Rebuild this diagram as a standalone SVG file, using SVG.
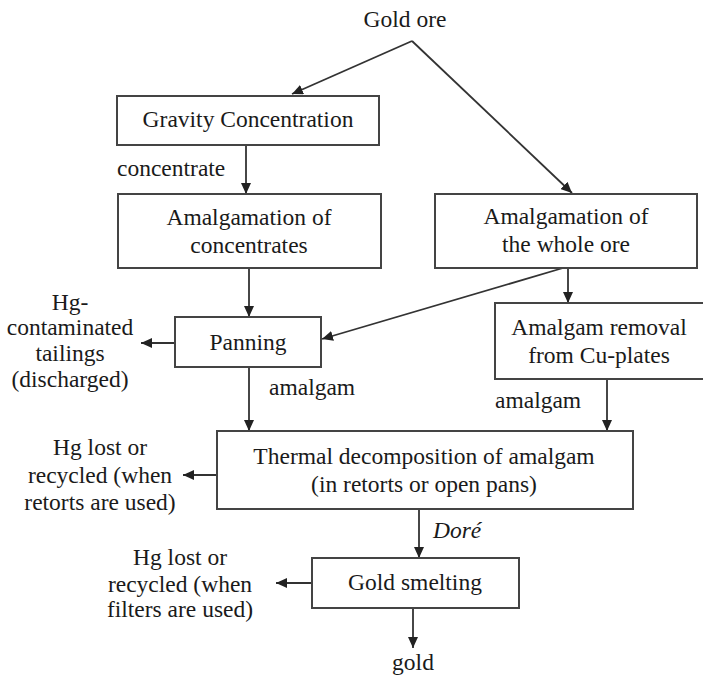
<svg xmlns="http://www.w3.org/2000/svg" width="703" height="676" viewBox="0 0 703 676" font-family="Liberation Serif, Times New Roman, serif">
<defs>
<style>
.box{fill:#fff;stroke:#444;stroke-width:2}
.t{font-family:'Liberation Serif','Times New Roman',serif;font-size:23.5px;fill:#1a1a1a}
.c{text-anchor:middle}
.con{stroke:#333;stroke-width:1.8;fill:none;marker-end:url(#ah)}
</style>
<marker id="ah" markerUnits="userSpaceOnUse" markerWidth="12" markerHeight="10" refX="11" refY="5" orient="auto" viewBox="0 0 12 10">
<path d="M0,0 L11,5 L0,10 z" fill="#222"/>
</marker>
</defs>
<rect width="703" height="676" fill="#fff"/>
<g id="connectors">
<line class="con" x1="412" y1="41" x2="292" y2="94"/>
<line class="con" x1="412" y1="41" x2="572" y2="193"/>
<line class="con" x1="246" y1="145" x2="246" y2="194"/>
<line class="con" x1="249" y1="268" x2="249" y2="317"/>
<line class="con" x1="563" y1="268" x2="322" y2="339"/>
<line class="con" x1="568" y1="268" x2="568" y2="303"/>
<line class="con" x1="175" y1="343" x2="141" y2="343"/>
<line class="con" x1="249" y1="367" x2="249" y2="431"/>
<line class="con" x1="607" y1="379" x2="607" y2="431"/>
<line class="con" x1="217" y1="475" x2="183" y2="475"/>
<line class="con" x1="419" y1="509" x2="419" y2="558"/>
<line class="con" x1="312" y1="583" x2="276" y2="583"/>
<line class="con" x1="413" y1="608" x2="413" y2="648"/>
</g>
<g id="gold-ore"><text class="t c" x="405" y="27">Gold ore</text></g>
<g id="gravity"><rect class="box" x="117" y="96" width="262" height="49"/><text class="t c" x="248" y="127">Gravity Concentration</text></g>
<g id="amal-conc"><rect class="box" x="118" y="194" width="263" height="74"/><text class="t c" x="249" y="225">Amalgamation of</text><text class="t c" x="249" y="253">concentrates</text></g>
<g id="amal-whole"><rect class="box" x="435" y="194" width="262" height="74"/><text class="t c" x="566" y="224">Amalgamation of</text><text class="t c" x="566" y="252">the whole ore</text></g>
<g id="panning"><rect class="box" x="175" y="317" width="146" height="50"/><text class="t c" x="248" y="350">Panning</text></g>
<g id="amal-removal"><rect class="box" x="495" y="303" width="212" height="76"/><text class="t c" x="599" y="335">Amalgam removal</text><text class="t c" x="599" y="363">from Cu-plates</text></g>
<g id="thermal"><rect class="box" x="217" y="431" width="416" height="78"/><text class="t c" x="424" y="464">Thermal decomposition of amalgam</text><text class="t c" x="424" y="492">(in retorts or open pans)</text></g>
<g id="smelting"><rect class="box" x="312" y="558" width="207" height="50"/><text class="t c" x="415" y="590">Gold smelting</text></g>
<g id="labels">
<text class="t" x="117" y="176">concentrate</text>
<text class="t" x="269" y="395">amalgam</text>
<text class="t" x="495" y="408">amalgam</text>
<text class="t" x="433" y="538" font-style="italic">Doré</text>
</g>
<g id="gold"><text class="t c" x="413" y="670">gold</text></g>
<g id="tailings"><text class="t c" x="70" y="310">Hg-</text><text class="t c" x="70" y="335">contaminated</text><text class="t c" x="70" y="361">tailings</text><text class="t c" x="70" y="387">(discharged)</text></g>
<g id="hg-retorts"><text class="t c" x="100" y="455">Hg lost or</text><text class="t c" x="100" y="483">recycled (when</text><text class="t c" x="100" y="510">retorts are used)</text></g>
<g id="hg-filters"><text class="t c" x="180" y="565">Hg lost or</text><text class="t c" x="180" y="592">recycled (when</text><text class="t c" x="180" y="617">filters are used)</text></g>
</svg>
